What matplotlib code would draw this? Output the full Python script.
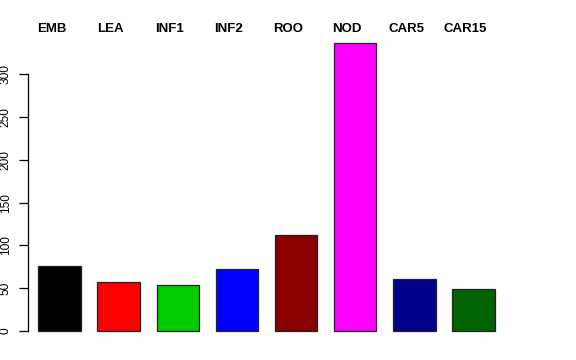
import matplotlib
matplotlib.use("Agg")
import matplotlib.pyplot as plt
import matplotlib.transforms as mtransforms
import numpy as np

plt.rcParams['font.family'] = ['Liberation Sans', 'DejaVu Sans']

categories = ["EMB", "LEA", "INF1", "INF2", "ROO", "NOD", "CAR5", "CAR15"]
values = [75.5, 57, 53.5, 72, 112.5, 337, 60.5, 49]
colors = ["#000000", "#FF0000", "#00CD00", "#0000FF", "#8B0000", "#FF00FF", "#00008B", "#006400"]
yticks = [0, 50, 100, 150, 200, 250, 300]

W, H = 576, 360
fig = plt.figure(figsize=(W / 100, H / 100), dpi=100)
left_px, right_px, top_px, bot_px = 28.3, 504.7, 31.0, 342.6
ax = fig.add_axes([left_px / W, 1 - bot_px / H, (right_px - left_px) / W, (bot_px - top_px) / H])

x = 0.7 + 1.4 * np.arange(len(categories))
ax.bar(x, values, width=1.0, color=colors, edgecolor="#222222", linewidth=0.9)
ax.set_xlim(-0.036, 11.236)
ax.set_ylim(-13.5, 350.5)

for s in ["top", "right", "bottom"]:
    ax.spines[s].set_visible(False)
ax.spines["left"].set_bounds(0, 300)
ax.spines["left"].set_linewidth(0.9)
ax.set_xticks([])
ax.set_yticks(yticks)
ax.set_yticklabels([str(t) for t in yticks], rotation=90, va="center", fontsize=8.6)
ax.tick_params(axis="y", length=6.5, width=0.9, pad=5.5)

trans = mtransforms.blended_transform_factory(ax.transData, fig.transFigure)
offset = mtransforms.ScaledTranslation(-8 / 100, 0, fig.dpi_scale_trans)
for xi, lab in zip(x, categories):
    ax.text(xi, 1 - 29.5 / H, lab, transform=trans + offset, ha="center", va="center",
            fontsize=9.5, fontweight="bold")

fig.savefig("out.png", dpi=100)
